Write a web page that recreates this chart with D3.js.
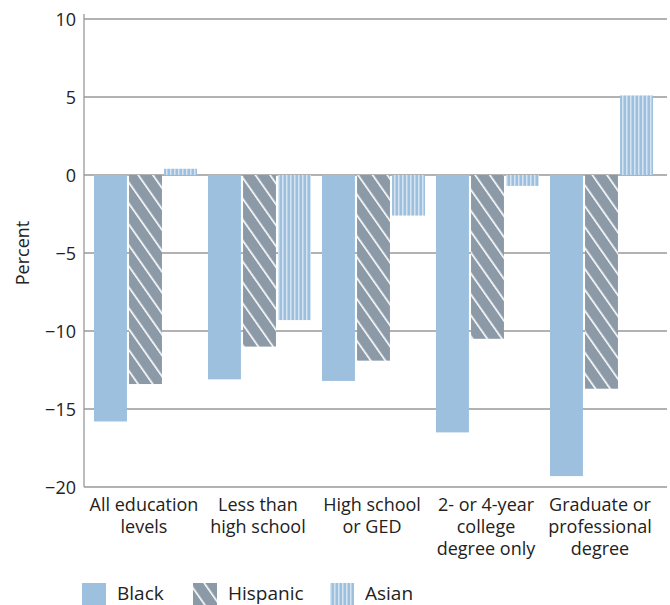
<!DOCTYPE html><html><head><meta charset="utf-8"><script src="https://cdn.jsdelivr.net/npm/d3@7"></script>
<style>body{margin:0;background:#fff}text{font-family:"Open Sans",sans-serif;fill:#222}</style></head><body><svg id="c" width="670" height="605"></svg>
<script>
const categories=[["All education","levels"],["Less than","high school"],["High school","or GED"],["2- or 4-year","college","degree only"],["Graduate or","professional","degree"]];
const series=["Black","Hispanic","Asian"];
const black=[-15.8,-13.1,-13.2,-16.5,-19.3];
const hispanic=[-13.4,-11.0,-11.9,-10.5,-13.7];
const asian=[0.4,-9.3,-2.6,-0.7,5.1];
const yTicks=[10,5,0,-5,-10,-15,-20];
const svg=d3.select("#c");
const defs=svg.append("defs");
const ph=defs.append("pattern").attr("id","hisp").attr("patternUnits","userSpaceOnUse").attr("width",12).attr("height",12).attr("patternTransform","rotate(-35)");
ph.append("rect").attr("width",12).attr("height",12).attr("fill","#8c9aa8");
ph.append("rect").attr("x",0).attr("width",1.6).attr("height",12).attr("fill","#fff");
const pa=defs.append("pattern").attr("id","asian").attr("patternUnits","userSpaceOnUse").attr("width",4).attr("height",10);
pa.append("rect").attr("width",4).attr("height",10).attr("fill","#9dc0de");
pa.append("rect").attr("x",2).attr("width",1.5).attr("height",10).attr("fill","#d4e4f2");
const fills=["#9dc0de","url(#hisp)","url(#asian)"];
const y=d3.scaleLinear().domain([-20,10]).range([487,19]);
const x0=d3.scaleBand().domain(d3.range(5)).range([84,654]);
const x1=d3.scaleBand().domain(d3.range(3)).range([10,113]).paddingInner(0.06);
svg.append("g").selectAll("line").data(yTicks).join("line").attr("x1",84).attr("x2",667).attr("y1",d=>y(d)).attr("y2",d=>y(d)).attr("stroke","#999").attr("stroke-width",1.3);
svg.append("line").attr("x1",84).attr("x2",84).attr("y1",14).attr("y2",487).attr("stroke","#999").attr("stroke-width",1.3);
svg.append("g").selectAll("text").data(yTicks).join("text").attr("x",76).attr("y",d=>y(d)+7).attr("text-anchor","end").attr("font-size",18).text(d=>d<0?"\u2212"+(-d):d);
svg.append("text").attr("transform","translate(29,253) rotate(-90)").attr("text-anchor","middle").attr("font-size",18).text("Percent");
const data=[black,hispanic,asian];
data.forEach((vals,s)=>{
 svg.append("g").selectAll("rect").data(vals).join("rect")
 .attr("x",(d,i)=>x0(i)+x1(s)).attr("width",x1.bandwidth())
 .attr("y",d=>y(Math.max(0,d))).attr("height",d=>Math.abs(y(d)-y(0))).attr("fill",fills[s]);
});
categories.forEach((lines,i)=>{
 const cx=x0(i)+x0.bandwidth()/2+3;
 const t=svg.append("text").attr("text-anchor","middle").attr("font-size",18).attr("x",cx).attr("y",511);
 lines.forEach((l,j)=>t.append("tspan").attr("x",cx).attr("dy",j?22:0).text(l));
});
const lx=[82,193,330];
series.forEach((s,i)=>{
 svg.append("rect").attr("x",lx[i]).attr("y",583).attr("width",24).attr("height",22).attr("fill",fills[i]);
 svg.append("text").attr("x",lx[i]+35).attr("y",600).attr("font-size",19).text(s);
});
</script></body></html>
